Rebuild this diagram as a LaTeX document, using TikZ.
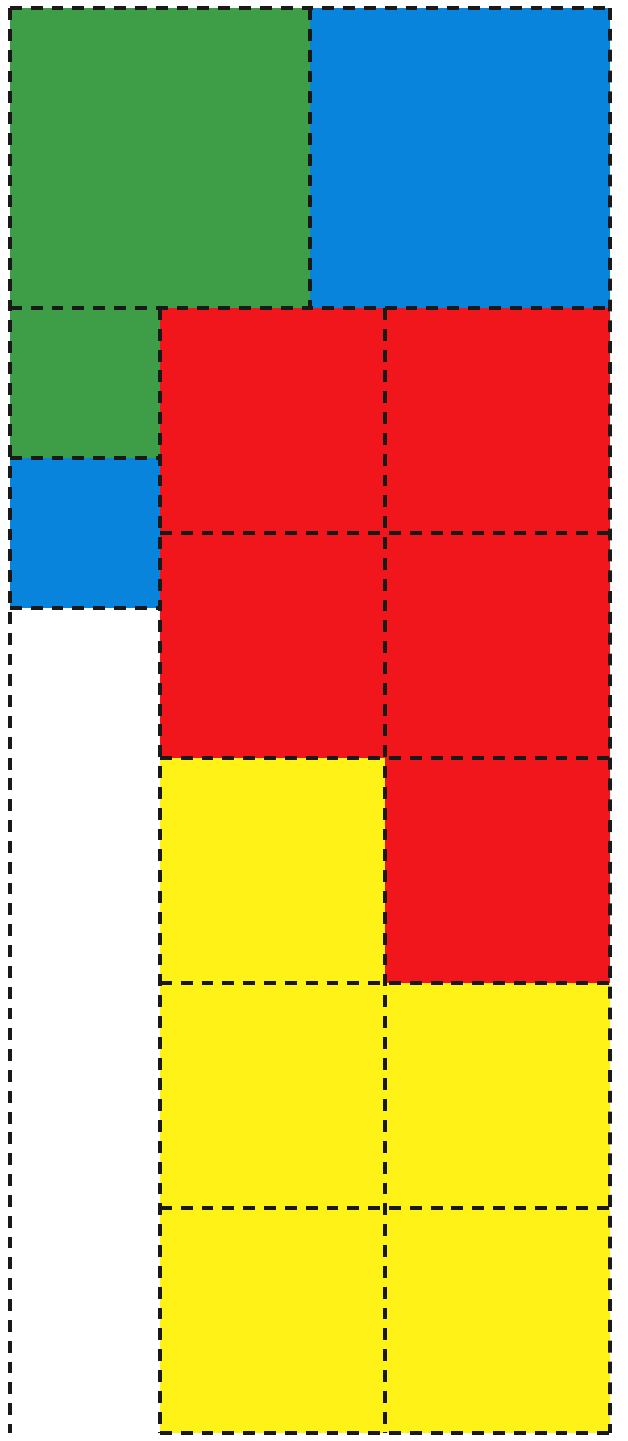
\documentclass[tikz,border=0pt]{standalone}
\usepackage{tikz}

\definecolor{tilegreen}{RGB}{62,158,72}
\definecolor{tileblue}{RGB}{8,132,220}
\definecolor{tilered}{RGB}{240,22,28}
\definecolor{tileyellow}{RGB}{255,242,22}

\begin{document}
\begin{tikzpicture}[
      x=1cm, y=1cm,
      tile/.style={inner sep=0pt, outer sep=0pt},
      big/.style={tile, minimum size=4cm},
      mid/.style={tile, minimum size=3cm},
      small/.style={tile, minimum size=2cm},
      edge/.style={draw=black!90, line width=1.4pt, dash pattern=on 4.5pt off 3.4pt}
    ]
    \useasboundingbox (-0.133,0.107) rectangle (8.24,-19.107);

    % top row
    \node[big, fill=tilegreen] (g_big) at (2,-2) {};
    \node[big, fill=tileblue] (b_big) at (6,-2) {};

    % left column
    \node[small, fill=tilegreen] (g_small) at (1,-5) {};
    \node[small, fill=tileblue] (b_small) at (1,-7) {};

    % red block
    \node[mid, fill=tilered] (r_a) at (3.5,-5.5) {};
    \node[mid, fill=tilered] (r_b) at (6.5,-5.5) {};
    \node[mid, fill=tilered] (r_c) at (3.5,-8.5) {};
    \node[mid, fill=tilered] (r_d) at (6.5,-8.5) {};
    \node[mid, fill=tilered] (r_e) at (6.5,-11.5) {};

    % yellow block
    \node[mid, fill=tileyellow] (y_a) at (3.5,-11.5) {};
    \node[mid, fill=tileyellow] (y_b) at (3.5,-14.5) {};
    \node[mid, fill=tileyellow] (y_c) at (6.5,-14.5) {};
    \node[mid, fill=tileyellow] (y_d) at (3.5,-17.5) {};
    \node[mid, fill=tileyellow] (y_e) at (6.5,-17.5) {};

    \coordinate (left_end) at (0,-19);

    % horizontal dashed lines, each drawn once
    \draw[edge] (g_big.north west) -- (b_big.north east);
    \draw[edge] (g_big.south west) -- (b_big.south east);
    \draw[edge] (g_small.south west) -- (g_small.south east);
    \draw[edge] (b_small.south west) -- (b_small.south east);
    \draw[edge] (r_a.south west) -- (r_b.south east);
    \draw[edge] (r_c.south west) -- (r_d.south east);
    \draw[edge] (y_a.south west) -- (r_e.south east);
    \draw[edge] (y_b.south west) -- (y_c.south east);
    \draw[edge] (y_d.south west) -- (y_e.south east);

    % vertical dashed lines
    \draw[edge] (g_big.north west) -- (left_end);
    \draw[edge] (g_big.north east) -- (g_big.south east);
    \draw[edge] (r_a.north west) -- (y_d.south west);
    \draw[edge] (r_a.north east) -- (y_d.south east);
    \draw[edge] (b_big.north east) -- (y_e.south east);
  \end{tikzpicture}
\end{document}
